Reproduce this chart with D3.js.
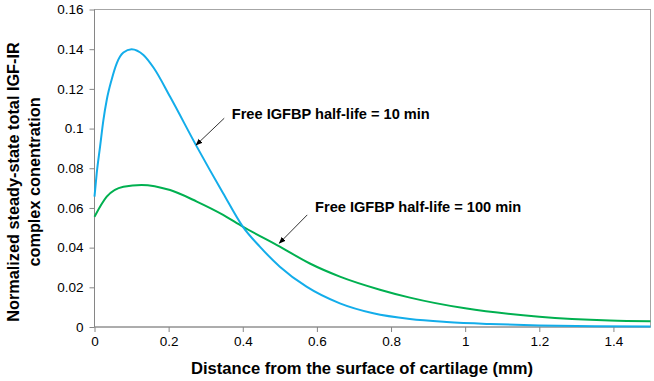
<!DOCTYPE html>
<html><head><meta charset="utf-8">
<script src="https://cdn.jsdelivr.net/npm/d3@7"></script>
<style>body{margin:0;background:#fff}svg{display:block}text{font-family:"Liberation Sans",Arial,sans-serif}</style>
</head><body><svg id="c" width="654" height="381"></svg>
<script>
const xTicks = [0, 0.2, 0.4, 0.6, 0.8, 1, 1.2, 1.4];
const yTicks = [0, 0.02, 0.04, 0.06, 0.08, 0.1, 0.12, 0.14, 0.16];
const blueX = [0, 0.006, 0.015, 0.024, 0.033, 0.046, 0.06, 0.078, 0.1, 0.132, 0.16, 0.204, 0.276, 0.347, 0.4, 0.446, 0.5, 0.572, 0.662, 0.752, 0.851, 0.95, 1.067, 1.2, 1.35, 1.5];
const blueY = [0.0657, 0.0775, 0.0909, 0.1043, 0.1144, 0.1245, 0.1329, 0.1383, 0.140, 0.1371, 0.1305, 0.116, 0.0909, 0.0674, 0.0506, 0.0405, 0.0304, 0.0203, 0.0119, 0.0069, 0.0040, 0.0025, 0.0015, 0.0008, 0.0004, 0.0002];
const greenX = [0, 0.033, 0.078, 0.127, 0.204, 0.276, 0.347, 0.4, 0.5, 0.581, 0.662, 0.77, 0.851, 1.0, 1.2, 1.39, 1.5];
const greenY = [0.0556, 0.0657, 0.0707, 0.0716, 0.069, 0.0632, 0.0565, 0.0506, 0.0405, 0.032, 0.0254, 0.0188, 0.0148, 0.0094, 0.0052, 0.0033, 0.0029];
const labels = ["Free IGFBP half-life = 10 min", "Free IGFBP half-life = 100 min"];
const xTitle = "Distance from the surface of cartilage (mm)";
const yTitle = ["Normalized steady-state total IGF-IR", "complex conentration"];

const svg = d3.select("#c");
const L = 94.5, R = 650.5, T = 9.5, B = 327;
const x = d3.scaleLinear().domain([0, 1.5]).range([L, R]);
const y = d3.scaleLinear().domain([0, 0.16]).range([B, T]);

svg.append("rect").attr("x", L).attr("y", T).attr("width", R - L).attr("height", B - T)
  .attr("fill", "none").attr("stroke", "#a6a6a6").attr("stroke-width", 1);

const xa = svg.append("g").attr("transform", `translate(0,${B})`)
  .call(d3.axisBottom(x).tickValues(xTicks).tickSize(5).tickPadding(4).tickFormat(d3.format("")));
const ya = svg.append("g").attr("transform", `translate(${L},0)`)
  .call(d3.axisLeft(y).tickValues(yTicks).tickSize(5).tickPadding(6).tickFormat(d3.format("")));
[xa, ya].forEach(a => {
  a.select(".domain").attr("stroke", "#868686");
  a.selectAll(".tick line").attr("stroke", "#868686");
  a.selectAll("text").attr("font-size", 13.5).attr("fill", "#000");
});
xa.select(".domain").attr("d", `M${L},0H${R}`);
ya.select(".domain").attr("d", `M0,${B}V${T}`);

const line = d3.line().x(d => x(d[0])).y(d => y(d[1])).curve(d3.curveMonotoneX);
svg.append("path").datum(greenX.map((v, i) => [v, greenY[i]]))
  .attr("d", line).attr("fill", "none").attr("stroke", "#00b050").attr("stroke-width", 2);
svg.append("path").datum(blueX.map((v, i) => [v, blueY[i]]))
  .attr("d", line).attr("fill", "none").attr("stroke", "#13adea").attr("stroke-width", 2);

svg.append("defs").append("marker").attr("id", "ah").attr("viewBox", "0 0 10 10")
  .attr("refX", 9).attr("refY", 5).attr("markerWidth", 7).attr("markerHeight", 7)
  .attr("orient", "auto").append("path").attr("d", "M0,1L10,5L0,9Z").attr("fill", "#000");
const ann = [
  {tail: [0.350, 0.1052], tip: [0.274, 0.0917], lab: [0.3703, 0.1074]},
  {tail: [0.574, 0.0565], tip: [0.4985, 0.0422], lab: [0.595, 0.0605]}
];
ann.forEach((a, i) => {
  svg.append("line").attr("x1", x(a.tail[0])).attr("y1", y(a.tail[1]))
    .attr("x2", x(a.tip[0])).attr("y2", y(a.tip[1]))
    .attr("stroke", "#333").attr("stroke-width", 1).attr("marker-end", "url(#ah)");
  svg.append("text").attr("x", x(a.lab[0])).attr("y", y(a.lab[1])).attr("dy", "0.35em")
    .attr("font-size", 14.6).attr("font-weight", "bold").text(labels[i]);
});

svg.append("text").attr("x", 362).attr("y", 368).attr("dy", "0.35em").attr("text-anchor", "middle")
  .attr("font-size", 16.6).attr("font-weight", "bold").text(xTitle);
yTitle.forEach((t, i) => {
  svg.append("text").attr("transform", `translate(${13 + i * 21},182) rotate(-90)`)
    .attr("dy", "0.35em").attr("text-anchor", "middle")
    .attr("font-size", 16.3).attr("font-weight", "bold").text(t);
});
</script></body></html>
